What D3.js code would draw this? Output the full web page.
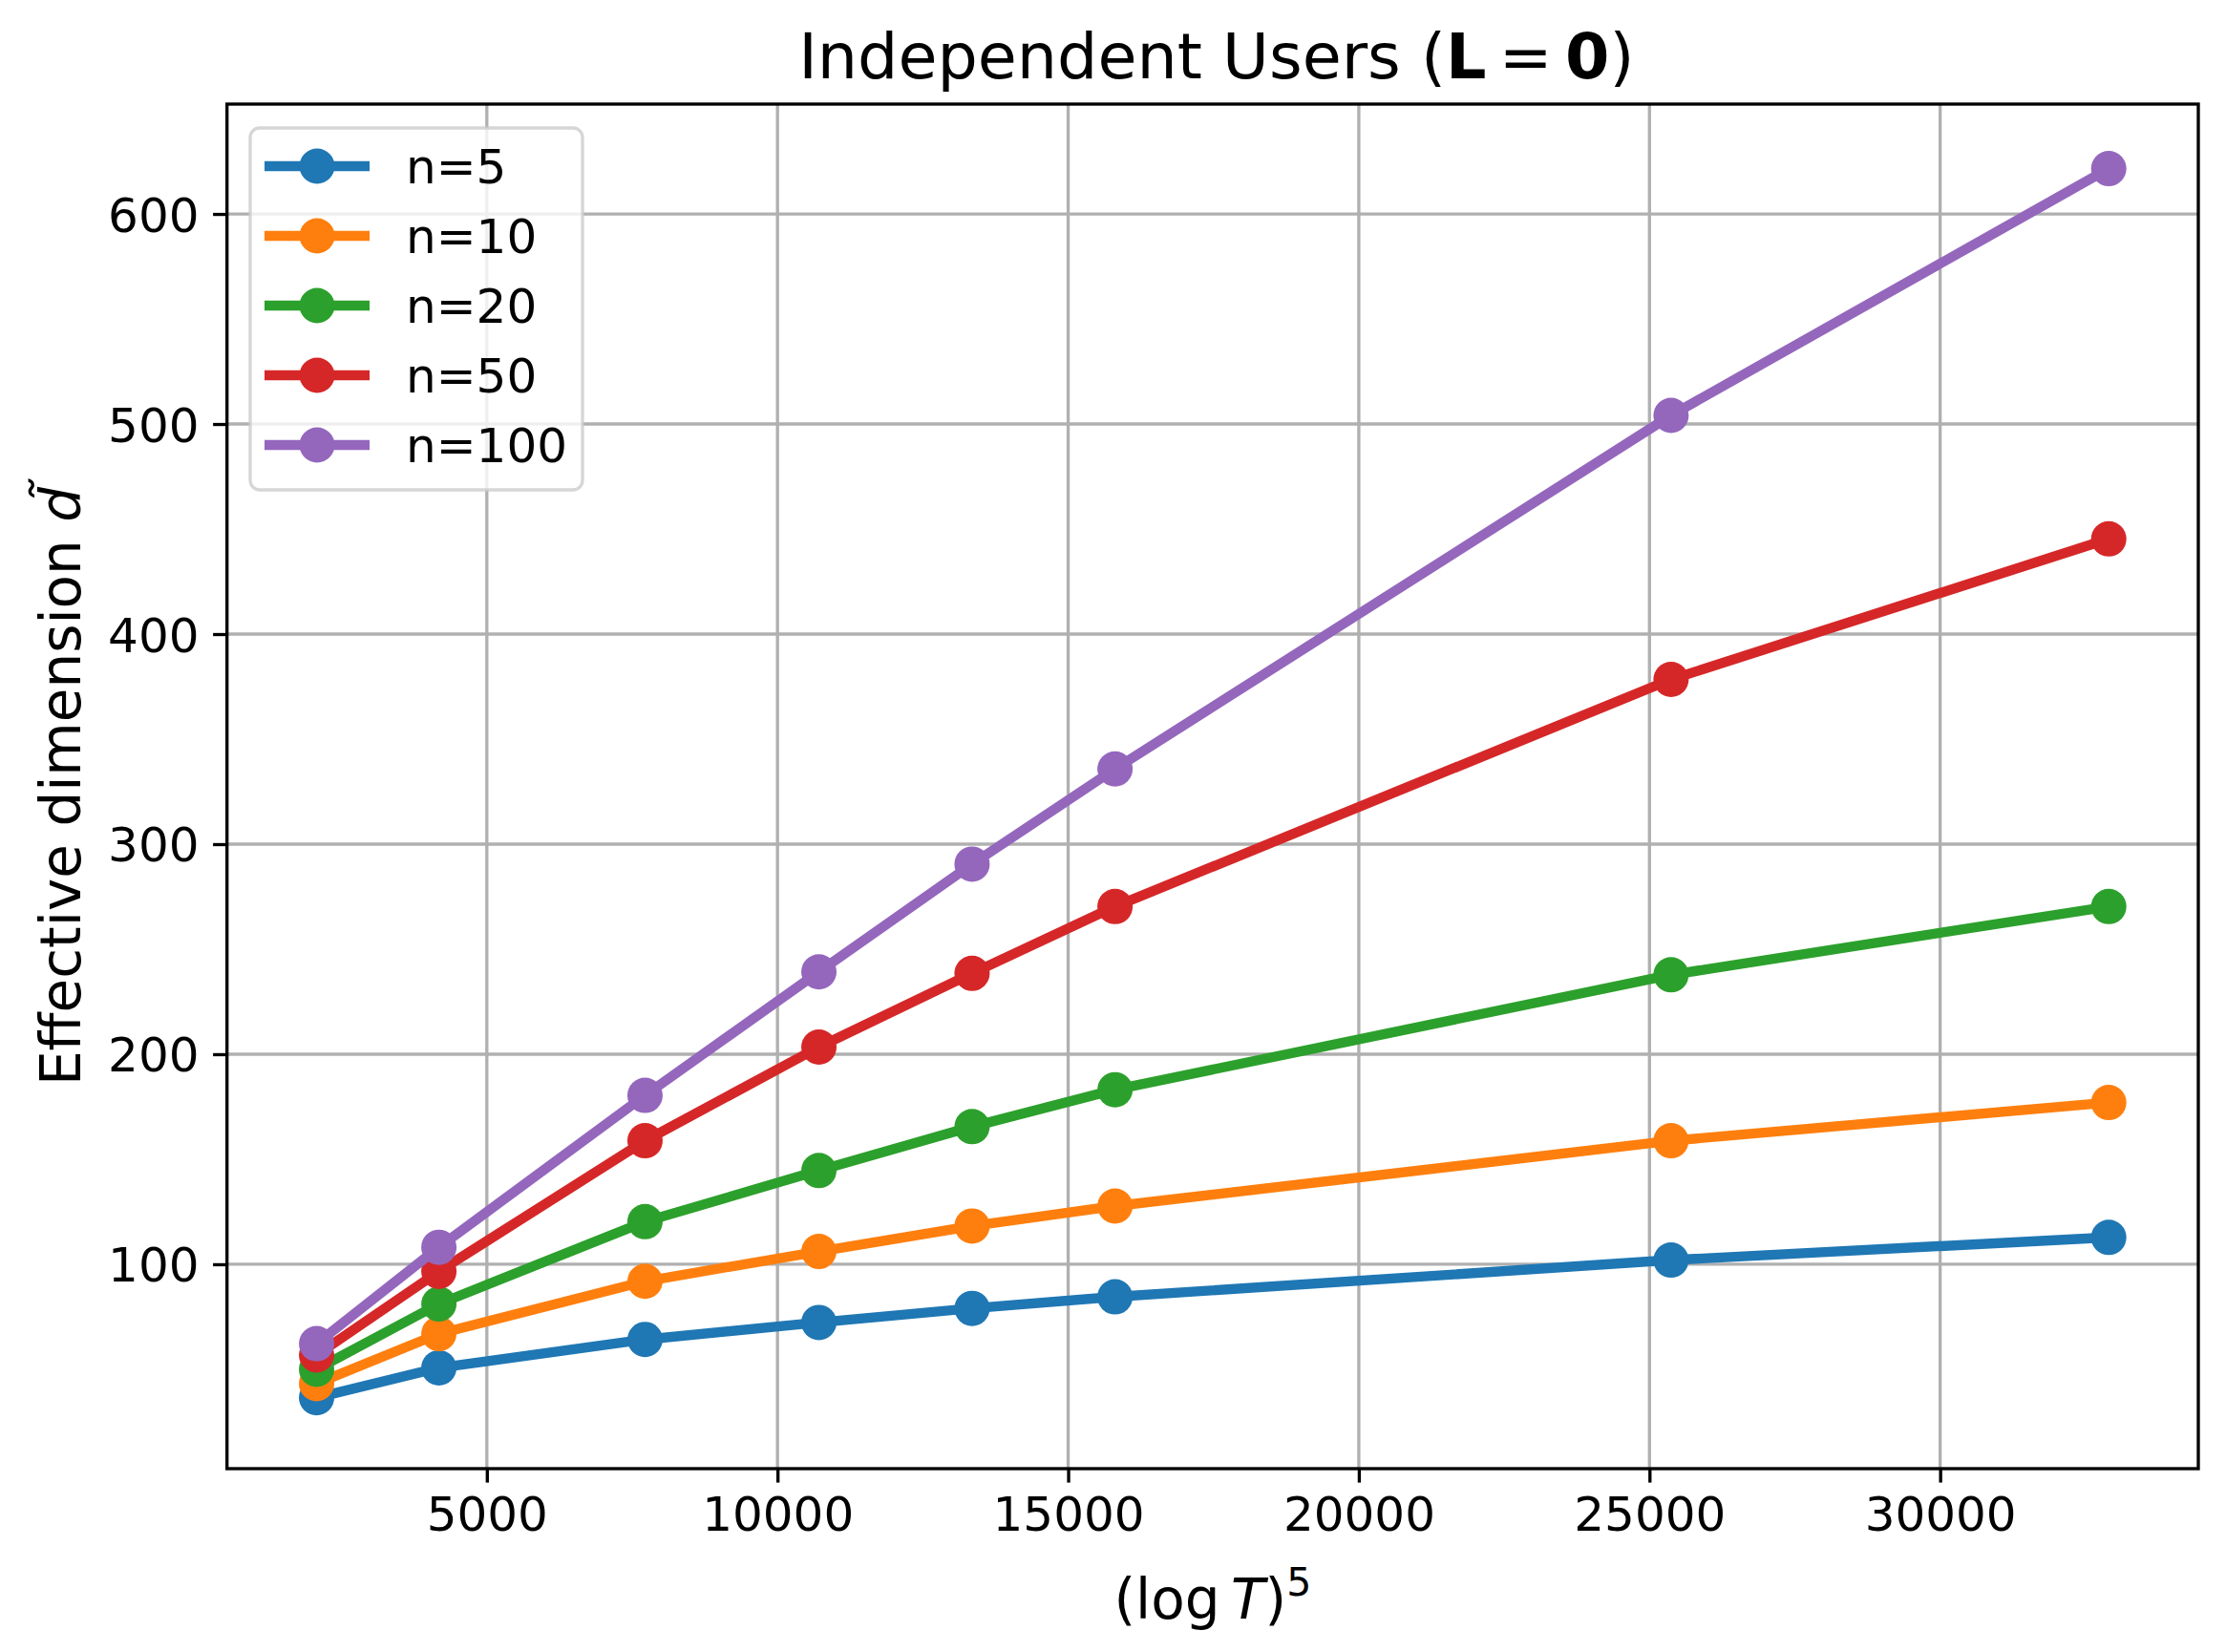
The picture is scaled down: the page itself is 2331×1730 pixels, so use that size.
<!DOCTYPE html>
<html>
<head>
<meta charset="utf-8">
<script src="https://cdn.jsdelivr.net/npm/d3@7"></script>
<style>
  html, body { margin: 0; padding: 0; background: #fff; }
  svg { display: block; }
  text { font-family: "DejaVu Sans", sans-serif; fill: #000; }
</style>
</head>
<body>
<svg id="chart" width="2331" height="1730"></svg>
<script>
// ---- data ----
const xValues = [2071, 4175, 7721, 10712, 13347, 15806, 25371, 32900]; // (log T)^5
const seriesNames = ["n=5", "n=10", "n=20", "n=50", "n=100"];
const n5   = [36.5, 50.7, 64.2, 72.3, 79.0, 84.5, 102.0, 112.8];
const n10  = [43.2, 66.9, 91.9, 106.1, 118.2, 127.7, 158.8, 177.0];
const n20  = [50.0, 81.1, 120.3, 144.6, 165.5, 183.1, 237.8, 270.3];
const n50  = [56.8, 96.6, 158.8, 203.4, 238.5, 270.3, 378.4, 445.3];
const n100 = [62.2, 108.1, 180.4, 239.2, 290.5, 335.8, 504.1, 621.6];
const seriesValues = [n5, n10, n20, n50, n100];
const seriesColors = ["#1f77b4", "#ff7f0e", "#2ca02c", "#d62728", "#9467bd"];
const xTicks = [5000, 10000, 15000, 20000, 25000, 30000];
const yTicks = [100, 200, 300, 400, 500, 600];

// ---- layout ----
const W = 2331, H = 1730;
const plot = { left: 237.7, right: 2302, top: 109, bottom: 1538 };
const xLim = [530, 34441];
const yLim = [2.7, 652.3];

const svg = d3.select("#chart");
const x = d3.scaleLinear().domain(xLim).range([plot.left, plot.right]);
const y = d3.scaleLinear().domain(yLim).range([plot.bottom, plot.top]);

const tickLen = 14.6, tickPad = 14.6, lw = 3.33;

// grid
const grid = svg.append("g");
grid.selectAll("line.gx").data(xTicks).join("line")
  .attr("x1", d => x(d)).attr("x2", d => x(d))
  .attr("y1", plot.top).attr("y2", plot.bottom)
  .attr("stroke", "#b0b0b0").attr("stroke-width", lw);
grid.selectAll("line.gy").data(yTicks).join("line")
  .attr("y1", d => y(d)).attr("y2", d => y(d))
  .attr("x1", plot.left).attr("x2", plot.right)
  .attr("stroke", "#b0b0b0").attr("stroke-width", lw);

// series
const line = d3.line().x((d, i) => x(xValues[i])).y(d => y(d));
seriesValues.forEach((vals, si) => {
  const g = svg.append("g");
  g.append("path").datum(vals)
    .attr("d", line)
    .attr("fill", "none")
    .attr("stroke", seriesColors[si])
    .attr("stroke-width", 10.4)
    .attr("stroke-linejoin", "round")
    .attr("stroke-linecap", "square");
  g.selectAll("circle").data(vals).join("circle")
    .attr("cx", (d, i) => x(xValues[i]))
    .attr("cy", d => y(d))
    .attr("r", 18.5)
    .attr("fill", seriesColors[si]);
});

// axes (d3 axes for ticks + labels)
const fs = 50;
const xAxis = svg.append("g")
  .attr("transform", `translate(0,${plot.bottom})`)
  .call(d3.axisBottom(x).tickValues(xTicks).tickSize(tickLen).tickPadding(tickPad).tickFormat(d3.format("d")));
const yAxis = svg.append("g")
  .attr("transform", `translate(${plot.left},0)`)
  .call(d3.axisLeft(y).tickValues(yTicks).tickSize(tickLen).tickPadding(tickPad).tickFormat(d3.format("d")));
[xAxis, yAxis].forEach(a => {
  a.select(".domain").remove();
  a.selectAll(".tick line").attr("stroke", "#000").attr("stroke-width", lw);
  a.selectAll(".tick text")
    .attr("font-family", "DejaVu Sans")
    .attr("font-size", fs)
    .attr("fill", "#000");
});
xAxis.selectAll(".tick text").attr("dy", null).attr("y", tickLen + tickPad + 36);
yAxis.selectAll(".tick text").attr("dy", null).attr("y", 18);

// spines
svg.append("rect")
  .attr("x", plot.left).attr("y", plot.top)
  .attr("width", plot.right - plot.left).attr("height", plot.bottom - plot.top)
  .attr("fill", "none").attr("stroke", "#000").attr("stroke-width", lw);

// title
const cx = (plot.left + plot.right) / 2;
const title = svg.append("text")
  .attr("x", cx + 4).attr("y", 82)
  .attr("text-anchor", "middle")
  .attr("font-size", 66.7);
title.append("tspan").text("Independent Users (");
title.append("tspan").attr("font-weight", "bold").text("L");
title.append("tspan").text("\u2009=\u2009");
title.append("tspan").attr("font-weight", "bold").text("0");
title.append("tspan").text(")");

// x label
const xl = svg.append("text")
  .attr("x", cx).attr("y", 1695)
  .attr("text-anchor", "middle")
  .attr("font-size", 58);
xl.append("tspan").text("(log\u2009");
xl.append("tspan").attr("font-style", "italic").text("T");
xl.append("tspan").text(")");
xl.append("tspan").attr("font-size", 41).attr("dy", -24).text("5");

// y label
const yl = svg.append("text")
  .attr("transform", `translate(84,${(plot.top + plot.bottom) / 2}) rotate(-90)`)
  .attr("text-anchor", "middle")
  .attr("font-size", 58);
yl.append("tspan").text("Effective dimension ");
yl.append("tspan").attr("font-style", "italic").text("d\u0303");

// legend
const leg = svg.append("g");
leg.append("rect")
  .attr("x", 262).attr("y", 134).attr("width", 348).attr("height", 379)
  .attr("rx", 10).attr("ry", 10)
  .attr("fill", "rgba(255,255,255,0.8)")
  .attr("stroke", "#cccccc").attr("stroke-opacity", 0.8).attr("stroke-width", lw);
const rowY = (i) => 174 + i * 73;
seriesNames.forEach((name, i) => {
  const gy = rowY(i);
  leg.append("line")
    .attr("x1", 277).attr("x2", 387).attr("y1", gy).attr("y2", gy)
    .attr("stroke", seriesColors[i]).attr("stroke-width", 10.4);
  leg.append("circle").attr("cx", 332).attr("cy", gy).attr("r", 18.5).attr("fill", seriesColors[i]);
  leg.append("text").attr("x", 425).attr("y", gy + 18).attr("font-size", fs).text(name);
});
</script>
</body>
</html>
